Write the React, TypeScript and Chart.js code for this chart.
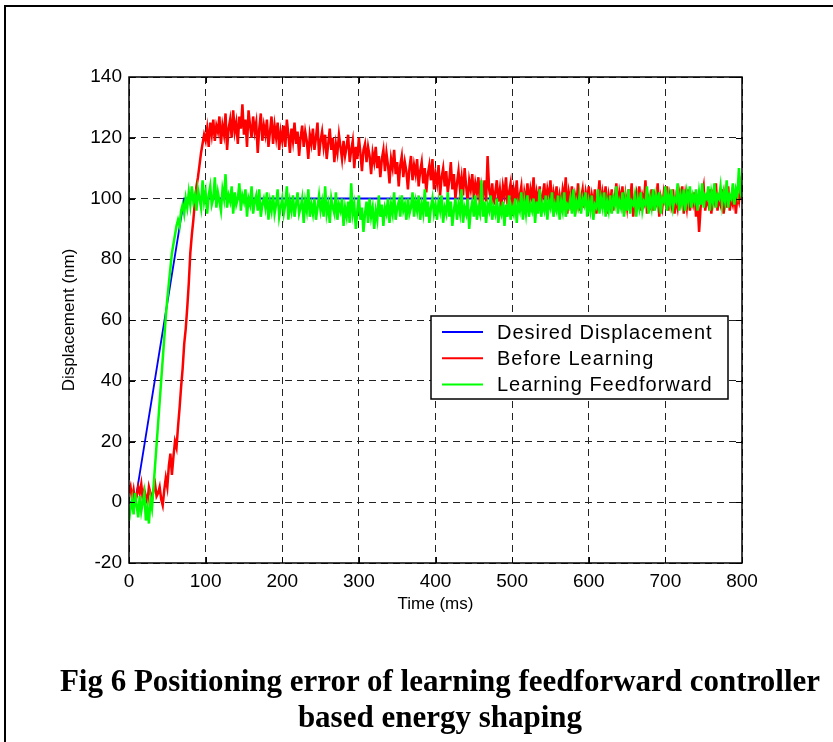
import React, { useEffect, useRef } from "react";
import { Chart, registerables } from "chart.js";

Chart.register(...registerables);

// ---------- data ----------
const SAMPLE_STEP_MS = 2; // sampling interval of the measured series (ms)

const X_TICKS = [0, 100, 200, 300, 400, 500, 600, 700, 800];
const Y_TICKS = [-20, 0, 20, 40, 60, 80, 100, 120, 140];

const SERIES_NAMES = ["Desired Displacement", "Before Learning", "Learning Feedforward"];

// desired trajectory break points
const DESIRED_T = [0, 8, 72, 800];
const DESIRED_Y = [0, 0, 100, 100];

// measured displacement before learning (nm), one value every 2 ms from 0 to 800 ms (20 per row = 40 ms)
const BEFORE_LEARNING = [
  3, 5, 1, 4, 0, 2, 5, 3, 6, 1, 4, 2, 0, 5, 3, 1, 4, 6, 2, 3,
  5, 1, -1, 4, 8, 5, 12, 16, 9, 15, 20, 18, 25, 31, 38, 44, 52, 57, 64, 72,
  82, 88, 93, 99, 104, 107, 111, 115, 118, 121, 119, 123, 117, 125, 121, 126, 119, 124, 122, 127,
  118, 124, 121, 128, 116, 123, 126, 120, 129, 122, 125, 118, 127, 123, 131, 121, 126, 117, 129, 124,
  120, 127, 122, 125, 115, 123, 128, 119, 124, 121, 126, 117, 122, 127, 118, 124, 120, 125, 116, 122,
  119, 124, 117, 126, 121, 115, 123, 119, 125, 118, 122, 114, 120, 124, 117, 122, 119, 113, 121, 118,
  123, 116, 120, 125, 114, 119, 122, 117, 121, 113, 118, 123, 116, 120, 112, 118, 115, 121, 117, 113,
  119, 114, 117, 121, 112, 116, 119, 110, 117, 113, 120, 115, 109, 116, 118, 112, 117, 114, 108, 115,
  112, 117, 110, 114, 107, 113, 116, 109, 115, 111, 105, 113, 110, 116, 108, 112, 104, 111, 114, 107,
  112, 109, 103, 110, 114, 106, 111, 108, 113, 104, 109, 112, 105, 110, 102, 108, 111, 106, 113, 103,
  108, 105, 111, 101, 107, 110, 104, 109, 102, 106, 112, 103, 108, 100, 105, 109, 103, 107, 101, 110,
  104, 99, 106, 103, 108, 100, 105, 102, 107, 98, 104, 101, 106, 99, 114, 103, 100, 105, 98, 102,
  106, 99, 103, 97, 104, 101, 107, 98, 102, 105, 97, 103, 100, 106, 98, 101, 104, 96, 102, 99,
  105, 98, 103, 100, 107, 97, 102, 99, 104, 96, 101, 105, 98, 103, 100, 106, 97, 102, 99, 104,
  96, 101, 98, 103, 100, 107, 95, 102, 99, 104, 97, 101, 98, 105, 96, 100, 103, 97, 102, 99,
  104, 96, 101, 98, 103, 95, 100, 106, 97, 102, 99, 104, 95, 101, 98, 103, 96, 100, 105, 97,
  102, 99, 104, 95, 101, 97, 103, 98, 105, 94, 100, 102, 97, 104, 96, 101, 99, 106, 95, 100,
  98, 103, 96, 101, 99, 105, 94, 100, 97, 102, 99, 104, 96, 101, 98, 103, 95, 100, 97, 102,
  99, 104, 95, 101, 97, 103, 96, 100, 98, 102, 94, 99, 89, 97, 101, 104, 96, 100, 98, 103,
  95, 101, 99, 105, 96, 100, 98, 103, 95, 101, 97, 104, 96, 100, 98, 102, 95, 101, 99, 104,
  100,
];

// measured displacement with learning feedforward (nm), one value every 2 ms (20 per row = 40 ms)
const LEARNING_FEEDFORWARD = [
  -6, -2, 1, -4, 3, -1, -5, 2, -3, 0, 3, -6, -2, -7, 1, -2, 5, 12, 19, 26,
  33, 40, 47, 54, 61, 67, 72, 77, 82, 85, 88, 91, 93, 91, 96, 98, 95, 100, 97, 102,
  98, 104, 99, 101, 96, 103, 100, 97, 106, 99, 102, 95, 101, 104, 98, 100, 107, 97, 102, 99,
  96, 103, 100, 108, 97, 101, 99, 104, 95, 102, 98, 100, 105, 96, 101, 99, 103, 94, 100, 98,
  104, 95, 99, 101, 96, 103, 94, 98, 100, 97, 102, 93, 99, 96, 101, 95, 98, 103, 94, 97,
  100, 95, 98, 104, 93, 99, 96, 101, 94, 98, 102, 95, 97, 100, 92, 99, 96, 103, 94, 98,
  95, 100, 93, 97, 101, 96, 99, 94, 104, 95, 98, 92, 100, 97, 95, 102, 93, 98, 96, 100,
  91, 97, 94, 99, 92, 105, 95, 98, 90, 96, 101, 93, 97, 89, 95, 99, 92, 100, 94, 97,
  90, 96, 93, 101, 94, 98, 91, 97, 95, 100, 92, 98, 95, 102, 93, 97, 99, 94, 101, 96,
  98, 93, 100, 95, 97, 102, 94, 99, 96, 101, 93, 98, 95, 103, 94, 99, 92, 97, 100, 95,
  98, 93, 99, 96, 101, 92, 97, 95, 102, 94, 99, 91, 96, 100, 93, 98, 95, 103, 92, 97,
  95, 100, 90, 96, 99, 94, 101, 93, 97, 95, 106, 94, 99, 92, 98, 96, 101, 93, 97, 95,
  100, 92, 97, 95, 99, 91, 98, 94, 101, 93, 97, 95, 100, 92, 98, 96, 102, 93, 99, 95,
  101, 94, 98, 96, 100, 92, 99, 95, 103, 94, 98, 96, 101, 93, 99, 97, 102, 94, 98, 96,
  101, 93, 99, 96, 102, 94, 98, 97, 100, 95, 103, 94, 99, 97, 101, 95, 100, 98, 102, 94,
  99, 96, 101, 93, 98, 97, 103, 95, 100, 97, 102, 94, 99, 96, 101, 95, 100, 98, 104, 95,
  99, 97, 102, 94, 100, 96, 103, 95, 99, 98, 101, 94, 100, 97, 102, 96, 99, 98, 104, 95,
  100, 97, 103, 96, 101, 98, 102, 95, 100, 99, 104, 96, 101, 98, 103, 97, 100, 99, 105, 96,
  101, 98, 103, 96, 102, 99, 104, 97, 101, 99, 103, 96, 102, 98, 105, 97, 101, 100, 104, 96,
  102, 99, 105, 97, 101, 100, 104, 98, 102, 99, 106, 97, 101, 100, 105, 98, 103, 101, 110, 102,
  100,
];

const COLORS = ["#0000ff", "#ff0000", "#00ff00"];

// ---------- layout constants ----------
const W = 833;
const H = 742;
const AREA = { left: 129, top: 77, right: 742, bottom: 563 };
const LEGEND_FONT = '20px "Liberation Sans", Arial, sans-serif';
const SANS = '"Liberation Sans", Arial, sans-serif';

const overlayPlugin = {
  id: "matlabOverlay",
  afterDatasetsDraw(chart: any) {
    const { ctx, chartArea: a, scales } = chart;
    ctx.save();
    ctx.strokeStyle = "#000";
    ctx.lineWidth = 1;
    const tick = 6;
    // inward ticks on all four sides
    ctx.beginPath();
    X_TICKS.forEach((v) => {
      const x = Math.round(scales.x.getPixelForValue(v)) + 0.5;
      ctx.moveTo(x, a.bottom);
      ctx.lineTo(x, a.bottom - tick);
      ctx.moveTo(x, a.top);
      ctx.lineTo(x, a.top + tick);
    });
    Y_TICKS.forEach((v) => {
      const y = Math.round(scales.y.getPixelForValue(v)) + 0.5;
      ctx.moveTo(a.left, y);
      ctx.lineTo(a.left + tick, y);
      ctx.moveTo(a.right, y);
      ctx.lineTo(a.right - tick, y);
    });
    ctx.stroke();
    // plot box
    ctx.lineWidth = 1.5;
    ctx.strokeRect(a.left, a.top, a.right - a.left, a.bottom - a.top);

    // legend
    const lx = a.left + 302;
    const ly = a.top + 239;
    const lw = 297;
    const lh = 83;
    ctx.fillStyle = "#fff";
    ctx.fillRect(lx, ly, lw, lh);
    ctx.lineWidth = 1.5;
    ctx.strokeRect(lx, ly, lw, lh);
    ctx.font = LEGEND_FONT;
    (ctx as any).letterSpacing = "1px";
    ctx.textBaseline = "middle";
    ctx.textAlign = "left";
    SERIES_NAMES.forEach((name, i) => {
      const y = ly + 16 + i * 26.3;
      ctx.strokeStyle = COLORS[i];
      ctx.lineWidth = 2;
      ctx.beginPath();
      ctx.moveTo(lx + 11, y);
      ctx.lineTo(lx + 52, y);
      ctx.stroke();
      ctx.fillStyle = "#000";
      ctx.fillText(name, lx + 66, y + 1);
    });
    ctx.restore();
  },
};

function ChartCanvas() {
  const ref = useRef<HTMLCanvasElement | null>(null);
  useEffect(() => {
    if (!ref.current) return;
    const toPts = (arr: number[]) => arr.map((v, i) => ({ x: i * SAMPLE_STEP_MS, y: v }));
    const chart = new Chart(ref.current, {
      type: "line",
      data: {
        datasets: [
          {
            label: SERIES_NAMES[2],
            data: toPts(LEARNING_FEEDFORWARD),
            borderColor: COLORS[2],
            borderWidth: 2.5,
            pointRadius: 0,
            tension: 0,
            order: 0,
          },
          {
            label: SERIES_NAMES[1],
            data: toPts(BEFORE_LEARNING),
            borderColor: COLORS[1],
            borderWidth: 2.5,
            pointRadius: 0,
            tension: 0,
            order: 1,
          },
          {
            label: SERIES_NAMES[0],
            data: DESIRED_T.map((t, i) => ({ x: t, y: DESIRED_Y[i] })),
            borderColor: COLORS[0],
            borderWidth: 1.8,
            pointRadius: 0,
            tension: 0,
            order: 2,
          },
        ],
      },
      options: {
        animation: false,
        responsive: false,
        events: [],
        layout: {
          padding: { left: 0, top: AREA.top, right: W - AREA.right, bottom: 0 },
        },
        plugins: {
          legend: { display: false },
          tooltip: { enabled: false },
        },
        scales: {
          x: {
            type: "linear",
            min: X_TICKS[0],
            max: X_TICKS[X_TICKS.length - 1],
            afterBuildTicks: (s: any) => {
              s.ticks = X_TICKS.map((v) => ({ value: v }));
            },
            afterFit: (s: any) => {
              s.height = H - AREA.bottom;
            },
            ticks: {
              color: "#000",
              font: { family: SANS, size: 19 },
              padding: 7,
              maxRotation: 0,
              autoSkip: false,
            },
            grid: { color: "#222", lineWidth: 1, drawTicks: false },
            border: { display: false, dash: [7, 5] },
            title: {
              display: true,
              text: "Time (ms)",
              color: "#000",
              font: { family: SANS, size: 17, lineHeight: 1 },
              padding: { top: 0, bottom: 129 },
            },
          },
          y: {
            type: "linear",
            min: Y_TICKS[0],
            max: Y_TICKS[Y_TICKS.length - 1],
            afterBuildTicks: (s: any) => {
              s.ticks = Y_TICKS.map((v) => ({ value: v }));
            },
            afterFit: (s: any) => {
              s.width = AREA.left;
            },
            ticks: {
              color: "#000",
              font: { family: SANS, size: 19 },
              padding: 7,
              autoSkip: false,
            },
            grid: { color: "#222", lineWidth: 1, drawTicks: false },
            border: { display: false, dash: [7, 5] },
            title: {
              display: true,
              text: "Displacement (nm)",
              color: "#000",
              font: { family: SANS, size: 17, lineHeight: 1 },
              padding: { top: 61, bottom: 0 },
            },
          },
        },
      },
      plugins: [overlayPlugin],
    });
    return () => chart.destroy();
  }, []);
  return <canvas ref={ref} width={W} height={H} style={{ position: "absolute", left: 0, top: 0 }} />;
}

export default function App() {
  return (
    <div
      style={{
        position: "absolute",
        left: 0,
        top: 0,
        width: W,
        height: H,
        overflow: "hidden",
        background: "#fff",
      }}
    >
      <ChartCanvas />
      <div
        style={{
          position: "absolute",
          left: 4,
          top: 5,
          width: W + 40,
          height: H + 40,
          border: "2px solid #000",
          pointerEvents: "none",
        }}
      />
      <div
        style={{
          position: "absolute",
          left: 40,
          top: 663,
          width: 800,
          textAlign: "center",
          fontFamily: '"Liberation Serif", "Times New Roman", serif',
          fontWeight: "bold",
          fontSize: 31,
          lineHeight: "36px",
          color: "#000",
        }}
      >
        Fig 6 Positioning error of learning feedforward controller
        <br />
        based energy shaping
      </div>
    </div>
  );
}
